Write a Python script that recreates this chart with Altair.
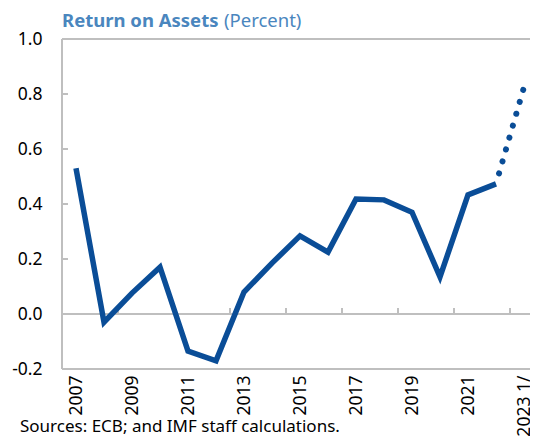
import altair as alt
import pandas as pd

years = ["2007", "2008", "2009", "2010", "2011", "2012", "2013", "2014", "2015",
         "2016", "2017", "2018", "2019", "2020", "2021", "2022", "2023 1/"]
roa = [0.53, -0.03, 0.076, 0.17, -0.135, -0.17, 0.08, 0.185, 0.284,
       0.225, 0.418, 0.415, 0.37, 0.135, 0.433, 0.473, 0.825]
label_years = ["2007", "2009", "2011", "2013", "2015", "2017", "2019", "2021", "2023 1/"]
tick_years = ["2009", "2011", "2013", "2015", "2017", "2019", "2021", "2023 1/"]
y_ticks = [-0.2, 0.0, 0.2, 0.4, 0.6, 0.8, 1.0]

title_main = "Return on Assets"
title_unit = "(Percent)"
source_text = "Sources: ECB; and IMF staff calculations."

FULL_W = 476          # width of the plotting frame (extends to the window edge)
VIEW_W = 468          # visible canvas part, keeps the page inside 538 px
H = 330
STEP = FULL_W / len(years)
FONT = "Noto Sans"
GRAY = "#bfbfbf"
BLUE = "#0a4d97"
TITLE_BLUE = "#4a86be"

df = pd.DataFrame({"year": years, "roa": roa})
solid_df = df.iloc[:-1]
dot_df = df.iloc[-2:]

xscale = alt.Scale(type="point", domain=years, padding=0.5, range=[0, FULL_W])
yscale = alt.Scale(domain=[-0.2, 1.0], nice=False, zero=False)

x_axis = alt.Axis(values=label_years, labelAngle=-90, domain=False, ticks=False,
                  grid=False, labelFont=FONT, labelFontSize=17.5, labelColor="#000000",
                  labelPadding=6, title=None)
y_axis = alt.Axis(values=y_ticks, format=".1f", domain=False, ticks=False, grid=False,
                  labelExpr="replace(datum.label, '\u2212', '-')",
                  labelFont=FONT, labelFontSize=17.5, labelColor="#000000",
                  labelPadding=20, title=None)


def X(field):
    return alt.X(field, scale=xscale, sort=years, axis=x_axis)


def Y(field):
    return alt.Y(field, scale=yscale, axis=y_axis)


# frame: top / bottom / zero lines and left edge
hlines = alt.Chart(pd.DataFrame({"v": [-0.2, 0.0, 1.0]})).mark_rule(
    color=GRAY, strokeWidth=2).encode(y=Y("v:Q"), x=alt.value(0), x2=alt.value(FULL_W))
vline = alt.Chart(pd.DataFrame({"v": [-0.2], "v2": [1.0]})).mark_rule(
    color=GRAY, strokeWidth=2).encode(y=Y("v:Q"), y2="v2:Q", x=alt.value(0))

ytick_df = pd.DataFrame({"v": y_ticks[1:-1]})
ltick = alt.Chart(ytick_df).mark_rule(color=GRAY, strokeWidth=2).encode(
    y=Y("v:Q"), x=alt.value(0), x2=alt.value(6))
rtick = alt.Chart(ytick_df).mark_rule(color=GRAY, strokeWidth=2).encode(
    y=Y("v:Q"), x=alt.value(FULL_W - 6), x2=alt.value(FULL_W))

xtick = alt.Chart(pd.DataFrame({"year": tick_years, "y0": 0.0, "y1": 0.022})).mark_rule(
    color=GRAY, strokeWidth=2, xOffset=-STEP / 2).encode(
    x=X("year:N"), y=Y("y0:Q"), y2="y1:Q")

solid = alt.Chart(solid_df).mark_line(color=BLUE, strokeWidth=5.5, strokeJoin="miter").encode(
    x=X("year:N"), y=Y("roa:Q"))
dotted = alt.Chart(dot_df).mark_line(color=BLUE, strokeWidth=6, strokeCap="round",
                                     strokeDash=[0.1, 12.3], strokeDashOffset=-11).encode(
    x=X("year:N"), y=Y("roa:Q"))

t1 = alt.Chart(pd.DataFrame({"t": [title_main]})).mark_text(
    font=FONT, fontSize=18.5, fontWeight="bold", color=TITLE_BLUE, align="left",
    baseline="alphabetic").encode(text="t:N", x=alt.value(0), y=alt.value(-12))
t2 = alt.Chart(pd.DataFrame({"t": [title_unit]})).mark_text(
    font=FONT, fontSize=18.5, color=TITLE_BLUE, align="left",
    baseline="alphabetic").encode(text="t:N", x=alt.value(162), y=alt.value(-12))
src = alt.Chart(pd.DataFrame({"t": [source_text]})).mark_text(
    font=FONT, fontSize=17, color="#000000", align="left",
    baseline="alphabetic").encode(text="t:N", x=alt.value(-42), y=alt.value(393))

chart = alt.layer(hlines, vline, ltick, rtick, xtick, solid, dotted, t1, t2, src).properties(
    width=VIEW_W, height=H,
    autosize=alt.AutoSizeParams(type="none"),
    padding={"left": 54, "top": 31, "right": 0, "bottom": 67},
).configure_view(stroke=None).configure(background="white")

chart.save("out.html", embed_options={"renderer": "svg", "actions": False})
